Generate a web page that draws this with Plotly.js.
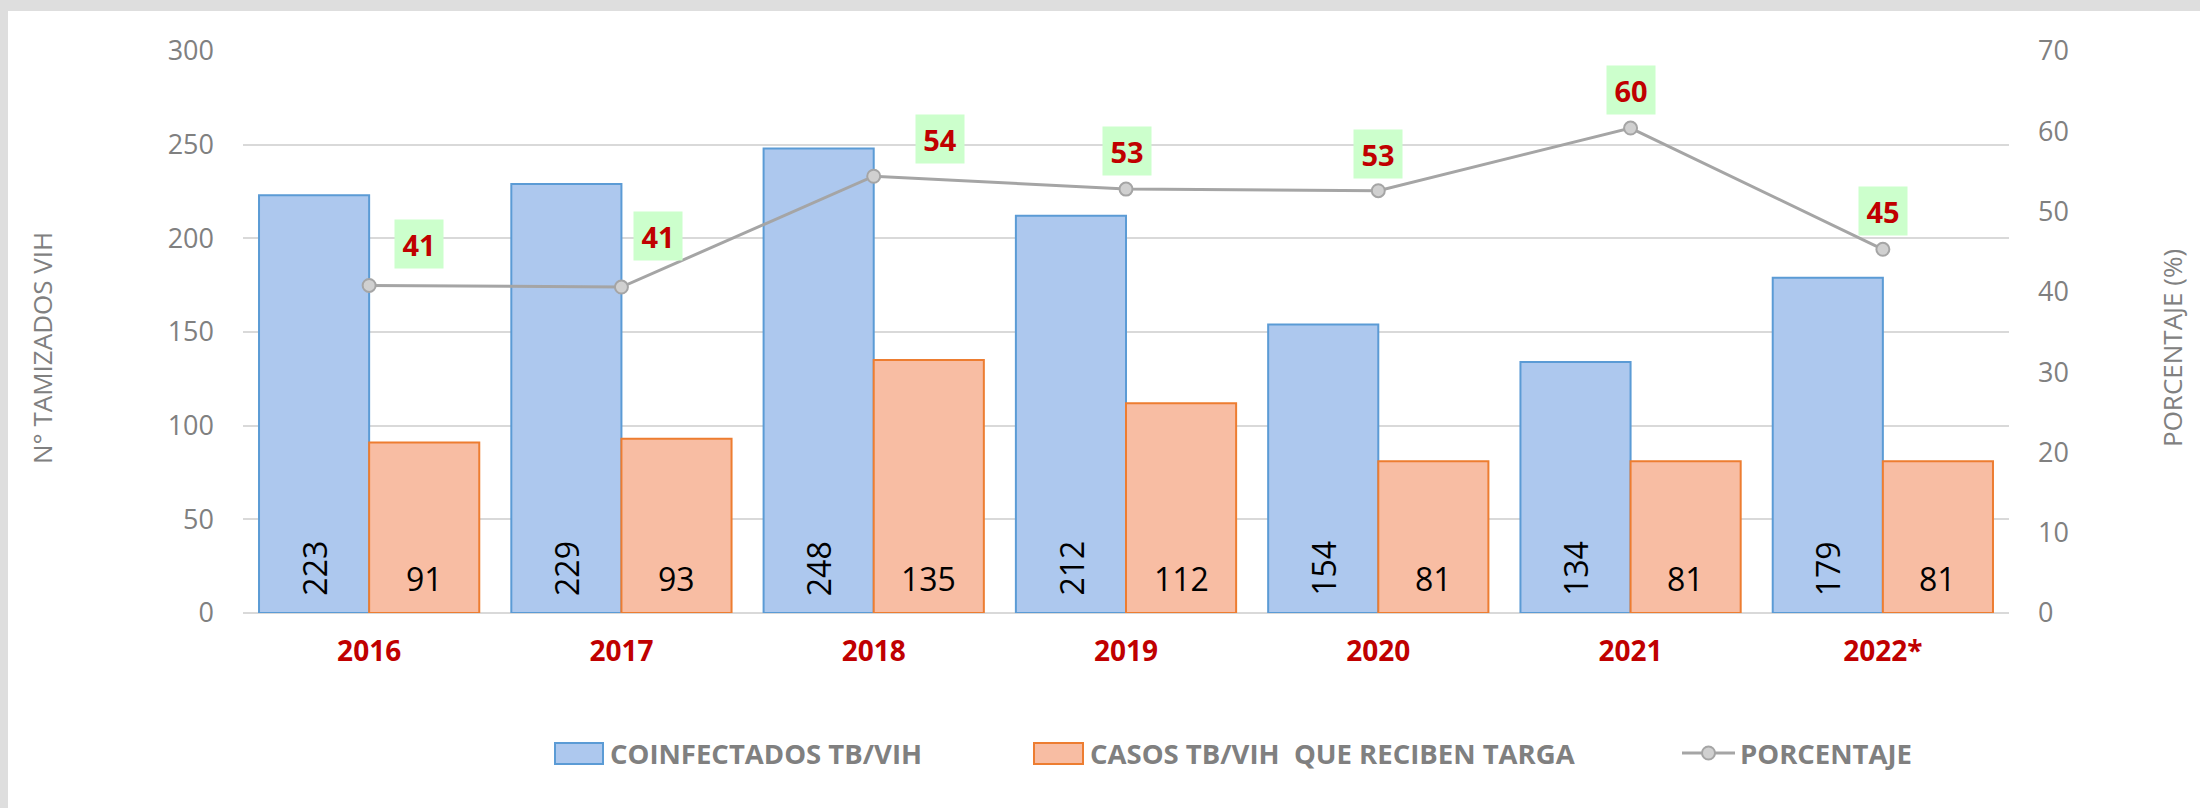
<!DOCTYPE html>
<html>
<head>
<meta charset="utf-8">
<script src="https://cdn.plot.ly/plotly-3.0.1.min.js"></script>
<style>
  html, body { margin: 0; padding: 0; width: 2200px; height: 808px; overflow: hidden; background: #dedede; }
  #chart { position: absolute; left: 8px; top: 11px; width: 2192px; height: 797px; background: #ffffff; }
</style>
</head>
<body>
<div id="chart"></div>
<script>
// ---- data ----
const years = ['2016', '2017', '2018', '2019', '2020', '2021', '2022*'];
const coinfectados = [223, 229, 248, 212, 154, 134, 179];
const targa = [91, 93, 135, 112, 81, 81, 81];
const porcentaje = [40.8, 40.6, 54.4, 52.8, 52.6, 60.4, 45.3];

const nameA = 'COINFECTADOS TB/VIH';
const nameB = 'CASOS TB/VIH  QUE RECIBEN TARGA';
const nameC = 'PORCENTAJE';
const yTitleL = 'N° TAMIZADOS VIH';
const yTitleR = 'PORCENTAJE (%)';

// ---- layout helpers (page pixel -> paper) ----
const PX0 = 243, PW = 1766, PY0 = 613, PH = 562;
const px = X => (X - PX0) / PW;
const py = Y => (PY0 - Y) / PH;

// label offsets (pixels) of the percentage boxes relative to points
const pctOffsets = [[50, 41], [37, 51], [66, 37], [1, 38], [0, 37], [0, 38], [0, 38]];

const FONT = 'Open Sans, Liberation Sans, sans-serif';
const GRAY = '#808080';
const RED = '#c00000';

const traces = [
  {
    type: 'bar', name: nameA, x: years, y: coinfectados,
    marker: { color: '#adc8ee', line: { color: '#5b9bd5', width: 2 } },
    hoverinfo: 'y'
  },
  {
    type: 'bar', name: nameB, x: years, y: targa,
    marker: { color: '#f8bda3', line: { color: '#ed7d31', width: 2 } },
    hoverinfo: 'y'
  },
  {
    type: 'scatter', mode: 'lines+markers', name: nameC, x: years, y: porcentaje, yaxis: 'y2',
    line: { color: '#a5a5a5', width: 3 },
    marker: { symbol: 'circle', size: 13, color: '#d0d0d0', line: { color: '#a5a5a5', width: 2 } },
    hoverinfo: 'y'
  }
];

const annotations = [];
// bar value labels (x given as category index)
years.forEach((yr, i) => {
  annotations.push({
    x: i, y: 0, xref: 'x', yref: 'y', text: String(coinfectados[i]),
    showarrow: false, textangle: -90, xanchor: 'center', yanchor: 'bottom',
    xshift: -55, yshift: 16, borderpad: 0,
    font: { family: FONT, size: 32, color: '#000000' }
  });
  annotations.push({
    x: i, y: 0, xref: 'x', yref: 'y', text: String(targa[i]),
    showarrow: false, xanchor: 'center', yanchor: 'bottom',
    xshift: 55, yshift: 12, borderpad: 0,
    font: { family: FONT, size: 32, color: '#000000' }
  });
  annotations.push({
    x: i, y: porcentaje[i], xref: 'x', yref: 'y2', text: String(Math.round(porcentaje[i])),
    showarrow: false, xanchor: 'center', yanchor: 'middle',
    xshift: pctOffsets[i][0], yshift: pctOffsets[i][1],
    width: 48, height: 48, borderpad: 0, bgcolor: '#ccffcc',
    font: { family: FONT, size: 29, color: RED, weight: 'bold' }
  });
});

// axis titles
annotations.push({
  xref: 'paper', yref: 'paper', x: px(42), y: py(348), text: yTitleL, showarrow: false,
  textangle: -90, xanchor: 'center', yanchor: 'middle',
  font: { family: FONT, size: 26, color: GRAY }
});
annotations.push({
  xref: 'paper', yref: 'paper', x: px(2172), y: py(348), text: yTitleR, showarrow: false,
  textangle: -90, xanchor: 'center', yanchor: 'middle',
  font: { family: FONT, size: 26, color: GRAY }
});

// custom legend
const LY = 753;
const legendItems = [
  { name: nameA, textX: 608 },
  { name: nameB, textX: 1088 },
  { name: nameC, textX: 1738 }
];
legendItems.forEach(it => {
  annotations.push({
    xref: 'paper', yref: 'paper', x: px(it.textX), y: py(LY), text: it.name, showarrow: false,
    xanchor: 'left', yanchor: 'middle',
    font: { family: FONT, size: 27.5, color: GRAY, weight: 'bold' }
  });
});

const shapes = [
  { type: 'rect', xref: 'paper', yref: 'paper', x0: px(555), x1: px(603), y0: py(743), y1: py(764),
    fillcolor: '#adc8ee', line: { color: '#5b9bd5', width: 2 } },
  { type: 'rect', xref: 'paper', yref: 'paper', x0: px(1034), x1: px(1083), y0: py(743), y1: py(764),
    fillcolor: '#f8bda3', line: { color: '#ed7d31', width: 2 } },
  { type: 'line', xref: 'paper', yref: 'paper', x0: px(1682), x1: px(1735), y0: py(LY), y1: py(LY),
    line: { color: '#a5a5a5', width: 3 } },
  { type: 'circle', xref: 'paper', yref: 'paper', x0: px(1702), x1: px(1715), y0: py(LY - 6.5), y1: py(LY + 6.5),
    fillcolor: '#d0d0d0', line: { color: '#a5a5a5', width: 2 } }
];

const layout = {
  width: 2192, height: 797,
  margin: { l: 235, r: 191, t: 40, b: 195, pad: 0 },
  paper_bgcolor: '#ffffff', plot_bgcolor: '#ffffff',
  barmode: 'group', bargap: 0.127, bargroupgap: 0,
  showlegend: false,
  font: { family: FONT, color: GRAY },
  xaxis: {
    type: 'category', range: [-0.5, years.length - 0.5], autorange: false,
    showgrid: false, zeroline: false, showline: false, ticks: '',
    tickfont: { family: FONT, size: 28, color: RED, weight: 'bold' },
    ticklabelstandoff: 19
  },
  yaxis: {
    range: [0, 300], autorange: false, dtick: 50, tick0: 0, showgrid: true, gridcolor: '#d9d9d9', gridwidth: 2,
    zeroline: true, zerolinecolor: '#d9d9d9', zerolinewidth: 2, showline: false, ticks: '',
    tickfont: { family: FONT, size: 27, color: GRAY }, ticklabelstandoff: 28
  },
  yaxis2: {
    range: [0, 70], autorange: false, dtick: 10, tick0: 0, overlaying: 'y', side: 'right',
    showgrid: false, zeroline: false, showline: false, ticks: '',
    tickfont: { family: FONT, size: 27, color: GRAY }, ticklabelstandoff: 28
  },
  annotations: annotations,
  shapes: shapes
};

Plotly.newPlot('chart', traces, layout, { displayModeBar: false, staticPlot: true });
</script>
</body>
</html>
